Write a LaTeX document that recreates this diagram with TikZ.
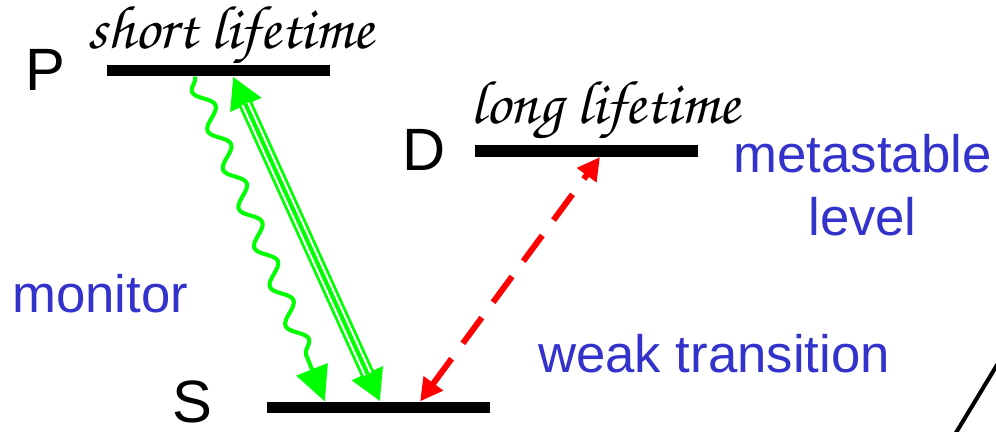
\documentclass[tikz,border=0pt]{standalone}
\usepackage[T1]{fontenc}
\usepackage{fontspec}
\setmainfont{Liberation Sans}
\usetikzlibrary{calc}
\usetikzlibrary{arrows.meta}
\usetikzlibrary{decorations.pathmorphing}
\definecolor{laser}{RGB}{0,255,0}
\definecolor{weakred}{RGB}{255,0,0}
\definecolor{notecol}{RGB}{51,51,204}
\newcommand{\handfont}{\fontencoding{T1}\fontfamily{pzc}\fontseries{mb}\fontshape{it}\selectfont}

\begin{document}
\begin{tikzpicture}[
    levelbar/.style={fill=black, minimum width=4.46cm, minimum height=0.23cm, inner sep=0pt},
    statelabel/.style={font=\fontsize{34}{40}\selectfont, anchor=base, inner sep=0pt},
    notetext/.style={text=notecol, font=\fontsize{30}{35.8}\selectfont, anchor=base, inner sep=0pt, align=center},
    lifetime/.style={font=\handfont\fontsize{35}{40}\selectfont, anchor=base, inner sep=0pt},
    decay/.style={laser, line width=2.3pt, -{Triangle[length=0.69cm,width=0.66cm]},
        decorate, decoration={snake, mirror, amplitude=0.17cm, segment length=0.84cm, post length=0.75cm}},
    pump/.style={laser, line width=8pt, {Triangle[length=0.62cm,width=0.64cm]}-{Triangle[length=0.62cm,width=0.64cm]}},
    pumpgap/.style={white, line width=4.8pt, shorten <=0.6cm, shorten >=0.6cm},
    pumpcore/.style={laser, line width=2.3pt, shorten <=0.6cm, shorten >=0.6cm},
    weak/.style={weakred, line width=3.4pt, dash pattern=on 0.64cm off 0.38cm,
        {Triangle[length=0.45cm,width=0.46cm]}-{Triangle[length=0.45cm,width=0.46cm]}}
]
\useasboundingbox (0,0) rectangle (19.92,8.62);
\clip (0,0) rectangle (19.92,8.62);

% --- levels ---
\node[levelbar] (P) at (4.37, 7.21) {};
\node[levelbar] (D) at (11.73, 5.60) {};
\node[levelbar] (S) at (7.57, 0.47) {};
\node[statelabel] (Plab) at (0.90, 6.82) {P};
\node[statelabel] (Dlab) at (8.48, 5.22) {D};
\node[statelabel] (Slab) at (3.85, 0.18) {S};
\node[lifetime] (short) at (4.61, 7.66) {short lifetime};
\node[lifetime] (long) at (12.10, 6.16) {long lifetime};

% --- ends of the transitions on the levels ---
\coordinate (pdecay) at ($(P.south west)!0.395!(P.south east)$);
\coordinate (ppump) at ($(P.south west)!0.565!(P.south east)$);
\coordinate (dweak) at ($(D.south west)!0.56!(D.south east)$);
\coordinate (sdecay) at ($(S.north west)!0.26!(S.north east)$);
\coordinate (spump) at ($(S.north west)!0.507!(S.north east)$);
\coordinate (sweak) at ($(S.north west)!0.686!(S.north east)$);

% --- transitions ---
\draw[decay] (pdecay) -- (sdecay);
\draw[pump] (spump) -- (ppump);
\draw[pumpgap] (spump) -- (ppump);
\draw[pumpcore] (spump) -- (ppump);
\draw[weak] (sweak) -- (dweak);

% --- notes ---
\node[notetext] (monitor) at (2.00, 2.38) {monitor};
\node[notetext] (weaktr) at (14.28, 1.18) {weak transition};
\node[notetext] (meta) at (17.25, 3.92) {metastable\\level};

% --- cut line at the corner ---
\coordinate (cuta) at (19.11, -0.05);
\coordinate (cutb) at (19.97, 1.37);
\draw[line width=2.3pt] (cuta) -- (cutb);
\end{tikzpicture}
\end{document}
